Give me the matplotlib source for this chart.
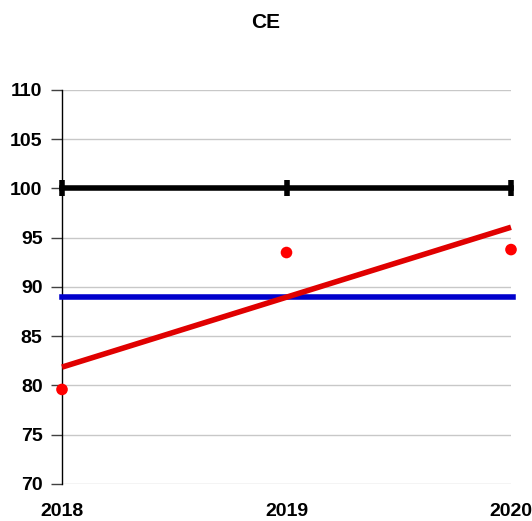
import numpy as np
import matplotlib.pyplot as plt

plt.rcParams['font.family'] = ['Liberation Sans', 'DejaVu Sans']

# data
years = [2018, 2019, 2020]
ce_values = [79.6, 93.5, 93.8]
target = [100, 100, 100]
average = [88.97, 88.97, 88.97]
y_ticks = [70, 75, 80, 85, 90, 95, 100, 105, 110]

# linear trendline through the points (as the spreadsheet does)
slope, intercept = np.polyfit(years, ce_values, 1)
trend = [slope * x + intercept for x in years]

fig = plt.figure(figsize=(5.32, 5.21), dpi=100)
ax = fig.add_axes([62 / 532, 1 - 484 / 521, (511 - 62) / 532, (484 - 90) / 521])

ax.plot(years, target, color='black', linewidth=4, marker='|', markersize=12,
        markeredgewidth=4, clip_on=False, zorder=3)
ax.plot([years[0], years[-1] + 0.01], average[:2], color='#0000CC', linewidth=4,
        clip_on=False, zorder=3)
ax.plot(years, trend, color='#E00000', linewidth=4, solid_capstyle='butt',
        clip_on=False, zorder=4)
ax.scatter(years, ce_values, color='#FF0000', s=70, clip_on=False, zorder=5,
           edgecolors='none')

ax.set_xlim(2018, 2020)
ax.set_ylim(70, 110)
ax.set_yticks(y_ticks)
ax.set_xticks(years)
ax.set_xticklabels([str(y) for y in years], fontsize=14, fontweight='bold')
ax.set_yticklabels([str(v) for v in y_ticks], fontsize=14, fontweight='bold')
ax.grid(axis='y', color='#C8C8C8', linewidth=1)
ax.set_axisbelow(True)

for s in ['top', 'right', 'bottom']:
    ax.spines[s].set_visible(False)
ax.spines['left'].set_linewidth(1)
ax.tick_params(axis='y', direction='out', length=8, width=1, color='#404040', pad=6)
ax.tick_params(axis='x', length=0, pad=14)

fig.text(0.5, 1 - 22 / 521, 'CE', ha='center', va='center', fontsize=15,
         fontweight='bold')

fig.savefig('out.png', dpi=100)
